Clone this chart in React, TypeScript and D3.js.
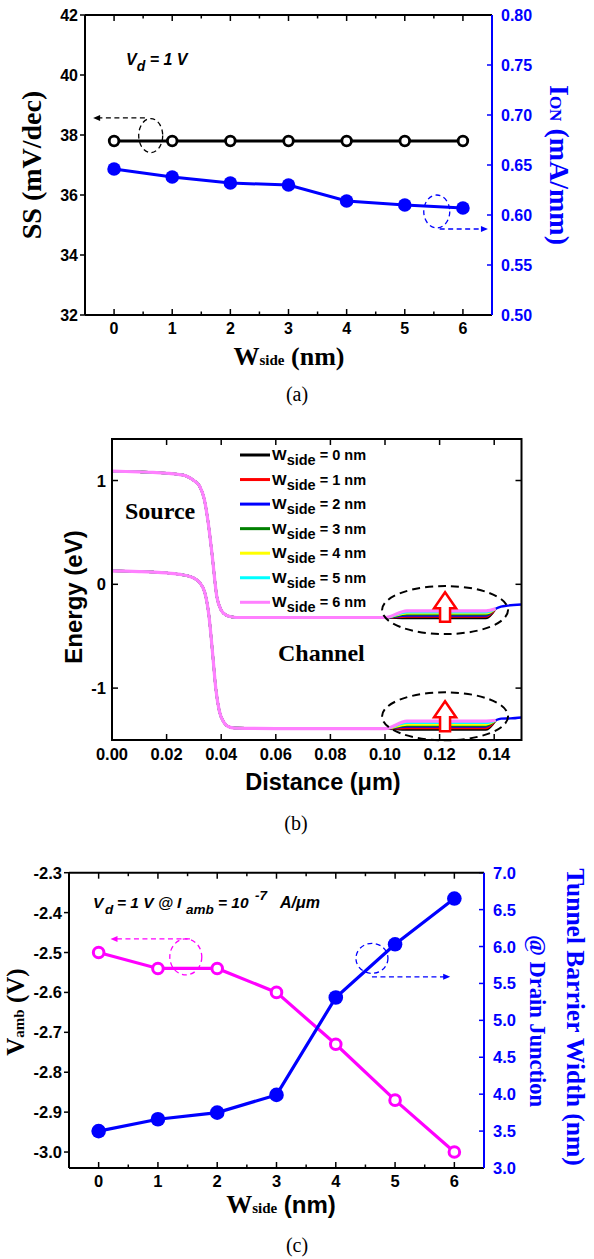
import React from 'react';
import * as d3 from 'd3';

// ---------- Panel (a) data ----------
const W_SIDE = [0, 1, 2, 3, 4, 5, 6];
const SS_VALUES = [37.8, 37.8, 37.8, 37.8, 37.8, 37.8, 37.8];
const ION_VALUES = [0.646, 0.638, 0.632, 0.630, 0.614, 0.610, 0.607];
const SS_TICKS = [32, 34, 36, 38, 40, 42];
const ION_TICKS = [0.5, 0.55, 0.6, 0.65, 0.7, 0.75, 0.8];
const X_TICKS = [0, 1, 2, 3, 4, 5, 6];
const X_MINOR_TICKS = [0.5, 1.5, 2.5, 3.5, 4.5, 5.5];

// ---------- Panel (b) data ----------
const SERIES_NAMES = ['0', '1', '2', '3', '4', '5', '6'];
const SERIES_COLORS = ['#000000', '#ff0000', '#0000ff', '#008000', '#ffff00', '#00ffff', '#ff80ff'];
const CB_SOURCE_CHANNEL: [number, number][] = [
  [0, 1.09], [0.005, 1.087], [0.01, 1.083], [0.015, 1.078], [0.02, 1.07], [0.024, 1.06],
  [0.027, 1.045], [0.03, 1.0], [0.032, 0.95], [0.0338, 0.82], [0.0352, 0.6], [0.0366, 0.3],
  [0.0384, -0.12], [0.04, -0.25], [0.042, -0.3], [0.044, -0.315], [0.047, -0.32],
  [0.06, -0.32], [0.08, -0.32], [0.1, -0.32],
];
const VB_SOURCE_CHANNEL: [number, number][] = [
  [0, 0.13], [0.005, 0.127], [0.01, 0.123], [0.015, 0.118], [0.02, 0.11], [0.025, 0.095],
  [0.028, 0.08], [0.03, 0.06], [0.032, 0.02], [0.034, -0.08], [0.0355, -0.3], [0.0368, -0.65],
  [0.038, -1.0], [0.0393, -1.22], [0.041, -1.33], [0.0425, -1.37], [0.045, -1.385],
  [0.06, -1.39], [0.08, -1.39], [0.1, -1.39],
];
const CB_DRAIN_LEVEL = [-0.325, -0.31, -0.3, -0.29, -0.28, -0.27, -0.255];
const VB_DRAIN_LEVEL = [-1.4, -1.385, -1.37, -1.36, -1.35, -1.335, -1.318];
const CB_DRAIN_TAIL: [number, number][] = [[0.1405, -0.235], [0.1425, -0.215], [0.145, -0.205], [0.15, -0.195]];
const VB_DRAIN_TAIL: [number, number][] = [[0.1405, -1.31], [0.1425, -1.294], [0.146, -1.292], [0.15, -1.283]];
const DIST_TICKS = [0, 0.02, 0.04, 0.06, 0.08, 0.1, 0.12, 0.14];
const ENERGY_TICKS = [-1, 0, 1];

// ---------- Panel (c) data ----------
const VAMB_VALUES = [-2.5, -2.54, -2.54, -2.6, -2.73, -2.87, -3.0];
const TBW_VALUES = [3.5, 3.66, 3.75, 3.99, 5.31, 6.03, 6.65];
const VAMB_TICKS = [-3.0, -2.9, -2.8, -2.7, -2.6, -2.5, -2.4, -2.3];
const TBW_TICKS = [3.0, 3.5, 4.0, 4.5, 5.0, 5.5, 6.0, 6.5, 7.0];

const SERIF = "'Liberation Serif', 'Times New Roman', serif";
const SANS = "'Liberation Sans', Arial, sans-serif";
const BLUE = '#0000ff';
const PINK = '#ff00ff';

function PanelA() {
  const x = d3.scaleLinear().domain([-0.5, 6.5]).range([85, 492]);
  const y = d3.scaleLinear().domain([32, 42]).range([315, 15]);
  const y2 = d3.scaleLinear().domain([0.5, 0.8]).range([315, 15]);
  const [x0, x1] = x.range();
  const [yb, yt] = y.range();
  const ssLine = d3.line<number>().x((_, i) => x(W_SIDE[i])).y((d) => y(d));
  const ionLine = d3.line<number>().x((_, i) => x(W_SIDE[i])).y((d) => y2(d));
  return (
    <g>
      {X_TICKS.map((t) => (
        <g key={'xt' + t}>
          <line x1={x(t)} x2={x(t)} y1={yb} y2={yb - 6} stroke="#000" strokeWidth={1.5} />
          <line x1={x(t)} x2={x(t)} y1={yt} y2={yt + 6} stroke="#000" strokeWidth={1.5} />
          <text x={x(t)} y={334} textAnchor="middle" fontFamily={SANS} fontWeight="bold" fontSize={16}>{t}</text>
        </g>
      ))}
      {X_MINOR_TICKS.map((t) => (
        <g key={'xm' + t}>
          <line x1={x(t)} x2={x(t)} y1={yb} y2={yb - 3.5} stroke="#000" strokeWidth={1.5} />
          <line x1={x(t)} x2={x(t)} y1={yt} y2={yt + 3.5} stroke="#000" strokeWidth={1.5} />
        </g>
      ))}
      {SS_TICKS.map((t) => (
        <g key={'yt' + t}>
          <line x1={x0} x2={x0 - 5} y1={y(t)} y2={y(t)} stroke="#000" strokeWidth={1.5} />
          <text x={x0 - 7} y={y(t) + 6} textAnchor="end" fontFamily={SANS} fontWeight="bold" fontSize={16}>{t}</text>
        </g>
      ))}
      {ION_TICKS.map((t) => (
        <g key={'y2' + t}>
          <line x1={x1} x2={x1 - 5} y1={y2(t)} y2={y2(t)} stroke={BLUE} strokeWidth={1.5} />
          <text x={x1 + 9} y={y2(t) + 6} fontFamily={SANS} fontWeight="bold" fontSize={16} fill={BLUE}>{t.toFixed(2)}</text>
        </g>
      ))}
      <line x1={x0} x2={x1} y1={yt} y2={yt} stroke="#000" strokeWidth={2} />
      <line x1={x0} x2={x1} y1={yb} y2={yb} stroke="#000" strokeWidth={2} />
      <line x1={x0} x2={x0} y1={yt} y2={yb} stroke="#000" strokeWidth={2} />
      <line x1={x1} x2={x1} y1={yt} y2={yb} stroke={BLUE} strokeWidth={2} />
      <path d={ssLine(SS_VALUES) || ''} fill="none" stroke="#000" strokeWidth={3} />
      {SS_VALUES.map((v, i) => (
        <circle key={'ss' + i} cx={x(W_SIDE[i])} cy={y(v)} r={4.8} fill="#fff" stroke="#000" strokeWidth={2.8} />
      ))}
      <path d={ionLine(ION_VALUES) || ''} fill="none" stroke={BLUE} strokeWidth={3} />
      {ION_VALUES.map((v, i) => (
        <circle key={'ion' + i} cx={x(W_SIDE[i])} cy={y2(v)} r={6.8} fill={BLUE} />
      ))}
      <ellipse cx={x(0.63)} cy={y(37.98)} rx={12} ry={17} fill="none" stroke="#000" strokeWidth={1.3} strokeDasharray="5,3.5" />
      <line x1={x(0.53)} x2={x(-0.33)} y1={y(38.57)} y2={y(38.57)} stroke="#000" strokeWidth={1.3} strokeDasharray="5,3.5" />
      <path d={`M${x(-0.36)},${y(38.57)} l7,-3 l0,6 z`} fill="#000" />
      <ellipse cx={x(5.55)} cy={y2(0.6035)} rx={13} ry={16.5} fill="none" stroke={BLUE} strokeWidth={1.3} strokeDasharray="5,3.5" />
      <line x1={x(5.6)} x2={x(6.38)} y1={y2(0.586)} y2={y2(0.586)} stroke={BLUE} strokeWidth={1.3} strokeDasharray="5,3.5" />
      <path d={`M${x(6.43)},${y2(0.586)} l-7,-3 l0,6 z`} fill={BLUE} />
      <text x={126} y={65} fontFamily={SANS} fontWeight="bold" fontStyle="italic" fontSize={16}>
        V<tspan fontSize={14} dy={6}>d</tspan><tspan dy={-6}> = 1 V</tspan>
      </text>
      <text transform="translate(41,165) rotate(-90)" textAnchor="middle" fontFamily={SERIF} fontWeight="bold" fontSize={28}>SS (mV/dec)</text>
      <text transform="translate(550,165) rotate(90)" textAnchor="middle" fontFamily={SERIF} fontWeight="bold" fontSize={28} fill={BLUE}>
        I<tspan fontSize={17}>ON</tspan> (mA/mm)
      </text>
      <text x={289} y={365} textAnchor="middle" fontFamily={SERIF} fontWeight="bold" fontSize={26}>
        W<tspan fontSize={15}>side</tspan> (nm)
      </text>
      <text x={297} y={401} textAnchor="middle" fontFamily={SERIF} fontSize={20}>(a)</text>
    </g>
  );
}

function PanelB() {
  const x = d3.scaleLinear().domain([0, 0.15]).range([112, 521.5]);
  const y = d3.scaleLinear().domain([-1.5, 1.4]).range([740, 439]);
  const [x0, x1] = x.range();
  const [yb, yt] = y.range();
  const line = d3.line<[number, number]>().x((d) => x(d[0])).y((d) => y(d[1])).curve(d3.curveMonotoneX);
  const build = (base: [number, number][], level: number, tail: [number, number][], withTail: boolean): [number, number][] => [
    ...base,
    [0.108, level],
    [0.137, level],
    tail[0],
    ...(withTail ? tail.slice(1) : []),
  ];
  const arrow = (cx: number, tip: number, bottom: number) =>
    `M${cx},${tip} L${cx + 11},${tip + 16} L${cx + 5},${tip + 16} L${cx + 5},${bottom} L${cx - 5},${bottom} L${cx - 5},${tip + 16} L${cx - 11},${tip + 16} Z`;
  return (
    <g>
      <defs>
        <clipPath id="clipB">
          <rect x={x0} y={yt} width={x1 - x0} height={yb - yt} />
        </clipPath>
      </defs>
      {DIST_TICKS.map((t) => (
        <g key={'dt' + t}>
          {t > 0 && <line x1={x(t)} x2={x(t)} y1={yb} y2={yb - 6} stroke="#000" strokeWidth={1.5} />}
          {t > 0 && <line x1={x(t)} x2={x(t)} y1={yt} y2={yt + 6} stroke="#000" strokeWidth={1.5} />}
          <text x={x(t)} y={760} textAnchor="middle" fontFamily={SANS} fontWeight="bold" fontSize={16.5}>{t.toFixed(2)}</text>
        </g>
      ))}
      {ENERGY_TICKS.map((t) => (
        <g key={'et' + t}>
          <line x1={x0} x2={x0 + 6} y1={y(t)} y2={y(t)} stroke="#000" strokeWidth={1.5} />
          <line x1={x1} x2={x1 - 6} y1={y(t)} y2={y(t)} stroke="#000" strokeWidth={1.5} />
          <text x={x0 - 6} y={y(t) + 6} textAnchor="end" fontFamily={SANS} fontWeight="bold" fontSize={16.5}>{t}</text>
        </g>
      ))}
      <g clipPath="url(#clipB)">
        {SERIES_NAMES.map((n, i) => (
          <g key={'s' + n}>
            <path d={line(build(CB_SOURCE_CHANNEL, CB_DRAIN_LEVEL[i], CB_DRAIN_TAIL, i === 2)) || ''} fill="none"
              stroke={SERIES_COLORS[i]} strokeWidth={i === 6 ? 3.2 : 2.4} />
            <path d={line(build(VB_SOURCE_CHANNEL, VB_DRAIN_LEVEL[i], VB_DRAIN_TAIL, i === 2)) || ''} fill="none"
              stroke={SERIES_COLORS[i]} strokeWidth={i === 6 ? 3.2 : 2.4} />
          </g>
        ))}
      </g>
      <rect x={x0} y={yt} width={x1 - x0} height={yb - yt} fill="none" stroke="#000" strokeWidth={2} />
      <ellipse cx={x(0.122)} cy={y(-0.248)} rx={63} ry={24} fill="none" stroke="#000" strokeWidth={2} strokeDasharray="8,5" />
      <ellipse cx={x(0.122)} cy={y(-1.272)} rx={63} ry={24} fill="none" stroke="#000" strokeWidth={2} strokeDasharray="8,5" />
      <path d={arrow(x(0.122), y(-0.077), y(-0.361))} fill="#fff" stroke="#ff0000" strokeWidth={2.5} />
      <path d={arrow(x(0.122), y(-1.126), y(-1.415))} fill="#fff" stroke="#ff0000" strokeWidth={2.5} />
      {SERIES_NAMES.map((n, i) => {
        const ly = 455 + i * 24.55;
        return (
          <g key={'lg' + n}>
            <line x1={240} x2={270} y1={ly} y2={ly} stroke={SERIES_COLORS[i]} strokeWidth={3} />
            <text x={272} y={ly + 5} fontFamily={SANS} fontWeight="bold" fontSize={15.5}>
              W<tspan fontSize={14.5} dy={5}>side</tspan><tspan fontSize={14.5} dy={-5}> = {n} nm</tspan>
            </text>
          </g>
        );
      })}
      <text x={125} y={519} fontFamily={SERIF} fontWeight="bold" fontSize={24}>Source</text>
      <text x={278} y={661} fontFamily={SERIF} fontWeight="bold" fontSize={24}>Channel</text>
      <text transform="translate(82,597) rotate(-90)" textAnchor="middle" fontFamily={SANS} fontWeight="bold" fontSize={24}>Energy (eV)</text>
      <text x={323} y={790} textAnchor="middle" fontFamily={SANS} fontWeight="bold" fontSize={23.5}>Distance (μm)</text>
      <text x={296} y={830} textAnchor="middle" fontFamily={SERIF} fontSize={20}>(b)</text>
    </g>
  );
}

function PanelC() {
  const x = d3.scaleLinear().domain([-0.5, 6.5]).range([69, 484]);
  const y = d3.scaleLinear().domain([-3.04, -2.3]).range([1168, 872.7]);
  const y2 = d3.scaleLinear().domain([3, 7]).range([1168, 872.7]);
  const [x0, x1] = x.range();
  const [yb, yt] = y.range();
  const vLine = d3.line<number>().x((_, i) => x(W_SIDE[i])).y((d) => y(d));
  const tLine = d3.line<number>().x((_, i) => x(W_SIDE[i])).y((d) => y2(d));
  return (
    <g>
      {X_TICKS.map((t) => (
        <g key={'cx' + t}>
          <line x1={x(t)} x2={x(t)} y1={yb} y2={yb - 6} stroke="#000" strokeWidth={1.5} />
          <line x1={x(t)} x2={x(t)} y1={yt} y2={yt + 6} stroke="#000" strokeWidth={1.5} />
          <text x={x(t)} y={1187} textAnchor="middle" fontFamily={SANS} fontWeight="bold" fontSize={16.5}>{t}</text>
        </g>
      ))}
      {X_MINOR_TICKS.map((t) => (
        <g key={'cm' + t}>
          <line x1={x(t)} x2={x(t)} y1={yb} y2={yb - 3.5} stroke="#000" strokeWidth={1.5} />
          <line x1={x(t)} x2={x(t)} y1={yt} y2={yt + 3.5} stroke="#000" strokeWidth={1.5} />
        </g>
      ))}
      {VAMB_TICKS.map((t) => (
        <g key={'cy' + t}>
          <line x1={x0} x2={x0 - 5} y1={y(t)} y2={y(t)} stroke="#000" strokeWidth={1.5} />
          <text x={x0 - 7} y={y(t) + 6} textAnchor="end" fontFamily={SANS} fontWeight="bold" fontSize={16.5}>{t.toFixed(1)}</text>
        </g>
      ))}
      {TBW_TICKS.map((t) => (
        <g key={'cr' + t}>
          <line x1={x1} x2={x1 - 5} y1={y2(t)} y2={y2(t)} stroke={BLUE} strokeWidth={1.5} />
          <text x={x1 + 9} y={y2(t) + 6} fontFamily={SANS} fontWeight="bold" fontSize={16.5} fill={BLUE}>{t.toFixed(1)}</text>
        </g>
      ))}
      <line x1={x0} x2={x1} y1={yt} y2={yt} stroke="#000" strokeWidth={2} />
      <line x1={x0} x2={x1} y1={yb} y2={yb} stroke="#000" strokeWidth={2} />
      <line x1={x0} x2={x0} y1={yt} y2={yb} stroke="#000" strokeWidth={2} />
      <line x1={x1} x2={x1} y1={yt} y2={yb} stroke={BLUE} strokeWidth={2} />
      <path d={vLine(VAMB_VALUES) || ''} fill="none" stroke={PINK} strokeWidth={3.2} />
      {VAMB_VALUES.map((v, i) => (
        <circle key={'va' + i} cx={x(W_SIDE[i])} cy={y(v)} r={5.3} fill="#fff" stroke={PINK} strokeWidth={3} />
      ))}
      <path d={tLine(TBW_VALUES) || ''} fill="none" stroke={BLUE} strokeWidth={3.2} />
      {TBW_VALUES.map((v, i) => (
        <circle key={'tb' + i} cx={x(W_SIDE[i])} cy={y2(v)} r={7.3} fill={BLUE} />
      ))}
      <ellipse cx={x(1.47)} cy={y(-2.511)} rx={16} ry={18} fill="none" stroke={PINK} strokeWidth={1.3} strokeDasharray="5,3.5" />
      <line x1={x(1.54)} x2={x(0.28)} y1={y(-2.466)} y2={y(-2.466)} stroke={PINK} strokeWidth={1.3} strokeDasharray="5,3.5" />
      <path d={`M${x(0.2)},${y(-2.466)} l7,-3 l0,6 z`} fill={PINK} />
      <ellipse cx={x(4.61)} cy={y2(5.84)} rx={16} ry={15} fill="none" stroke={BLUE} strokeWidth={1.3} strokeDasharray="5,3.5" />
      <line x1={x(4.61)} x2={x(5.85)} y1={y2(5.59)} y2={y2(5.59)} stroke={BLUE} strokeWidth={1.3} strokeDasharray="5,3.5" />
      <path d={`M${x(5.93)},${y2(5.59)} l-7,-3 l0,6 z`} fill={BLUE} />
      <text y={908} fontFamily={SANS} fontWeight="bold" fontStyle="italic" fontSize={15.5}>
        <tspan x={93}>V</tspan>
        <tspan x={105} dy={6} fontSize={13.5}>d</tspan>
        <tspan x={117} dy={-6}>= 1 V @</tspan>
        <tspan x={177}>I</tspan>
        <tspan x={186} dy={6} fontSize={13.5}>amb</tspan>
        <tspan x={218} dy={-6}>= 10</tspan>
        <tspan x={255} dy={-8} fontSize={13.5}>-7</tspan>
        <tspan x={280} dy={8} fontSize={16}>A/μm</tspan>
      </text>
      <text transform="translate(24,1012) rotate(-90)" textAnchor="middle" fontFamily={SERIF} fontWeight="bold" fontSize={25}>
        V<tspan fontSize={15}>amb</tspan> (V)
      </text>
      <text transform="translate(567,1017) rotate(90)" textAnchor="middle" fontFamily={SERIF} fontWeight="bold" fontSize={25.5} fill={BLUE}>
        Tunnel Barrier Width (nm)
      </text>
      <text transform="translate(530,1021) rotate(90)" textAnchor="middle" fontFamily={SERIF} fontWeight="bold" fontSize={22.5} fill={BLUE}>
        @ Drain Junction
      </text>
      <text x={281} y={1213} textAnchor="middle" fontFamily={SERIF} fontWeight="bold" fontSize={26}>
        W<tspan fontSize={15}>side</tspan> <tspan fontFamily={SANS} fontSize={24}>(nm)</tspan>
      </text>
      <text x={297} y={1252} textAnchor="middle" fontFamily={SERIF} fontSize={20}>(c)</text>
    </g>
  );
}

export default function App() {
  return (
    <svg width={594} height={1259} style={{ position: 'absolute', left: 0, top: 0, background: '#fff' }}>
      <rect x={0} y={0} width={594} height={1259} fill="#fff" />
      <PanelA />
      <PanelB />
      <PanelC />
    </svg>
  );
}
